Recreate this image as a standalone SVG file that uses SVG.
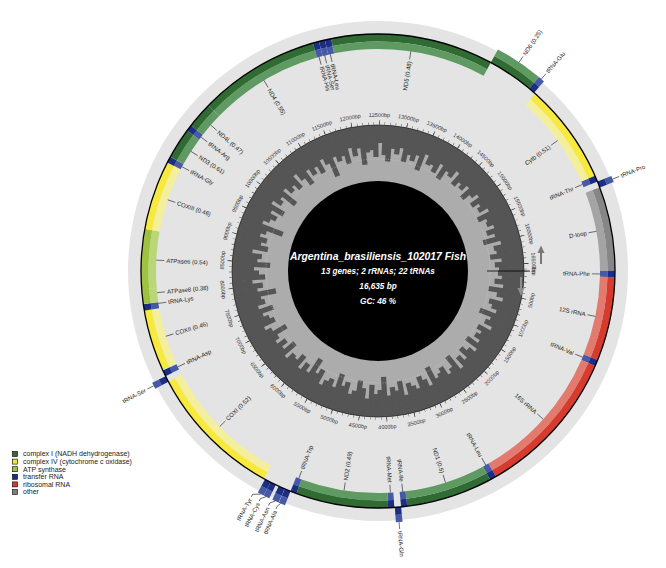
<svg xmlns="http://www.w3.org/2000/svg" width="666" height="568" viewBox="0 0 666 568">
<style>
.d,.l{fill:none;stroke-width:7.6}
.c1d{stroke:#2f6b33}.c1l{stroke:#5f9a62}
.c4d{stroke:#f7e93e}.c4l{stroke:#f4ef9c}
.atd{stroke:#9cc23f}.atl{stroke:#b9d678}
.trd{stroke:#1c2e84}.trl{stroke:#4659a6}
.rrd{stroke:#d63b2f}.rrl{stroke:#e27a6e}
.otd{stroke:#868686}.otl{stroke:#a4a4a4}
text{font-family:"Liberation Sans",Arial,sans-serif}
.t{font-size:6px;fill:#222}
.e{text-anchor:end}
.bp{font-size:5.5px;fill:#333;text-anchor:middle}
.ct{fill:#fff;font-weight:bold;font-style:italic;text-anchor:middle}
.lg{font-size:7px;fill:#222}
#connectors path{fill:none;stroke:#222;stroke-width:0.6}
.sq{stroke:#000;stroke-width:0.6}
</style>
<defs>
<clipPath id="gcclip"><circle r="146"/></clipPath>
<rect id="b" x="0" y="-2.6" width="60" height="5.2" fill="#555"/>
</defs>
<rect width="666" height="568" fill="#fff"/>
<g transform="translate(378,271)">
<circle r="250" fill="#e4e4e4"/>
<g id="gc-content">
<circle r="146" fill="#555"/>
<circle r="136" fill="#acacac"/>
<g clip-path="url(#gcclip)">
<use href="#b" x="120" transform="rotate(1)"/><use href="#b" x="124" transform="rotate(3)"/><use href="#b" x="117" transform="rotate(5)"/><use href="#b" x="126" transform="rotate(7)"/><use href="#b" x="112" transform="rotate(9)"/><use href="#b" x="121" transform="rotate(11)"/><use href="#b" x="128" transform="rotate(13)"/><use href="#b" x="115" transform="rotate(15)"/><use href="#b" x="119" transform="rotate(17)"/><use href="#b" x="125" transform="rotate(19)"/>
<use href="#b" x="109" transform="rotate(21)"/><use href="#b" x="122" transform="rotate(23)"/><use href="#b" x="118" transform="rotate(25)"/><use href="#b" x="127" transform="rotate(27)"/><use href="#b" x="114" transform="rotate(29)"/><use href="#b" x="120" transform="rotate(31)"/><use href="#b" x="116" transform="rotate(33)"/><use href="#b" x="123" transform="rotate(35)"/><use href="#b" x="111" transform="rotate(37)"/><use href="#b" x="126" transform="rotate(39)"/>
<use href="#b" x="119" transform="rotate(41)"/><use href="#b" x="113" transform="rotate(43)"/><use href="#b" x="124" transform="rotate(45)"/><use href="#b" x="117" transform="rotate(47)"/><use href="#b" x="128" transform="rotate(49)"/><use href="#b" x="110" transform="rotate(51)"/><use href="#b" x="121" transform="rotate(53)"/><use href="#b" x="125" transform="rotate(55)"/><use href="#b" x="115" transform="rotate(57)"/><use href="#b" x="119" transform="rotate(59)"/>
<use href="#b" x="122" transform="rotate(61)"/><use href="#b" x="108" transform="rotate(63)"/><use href="#b" x="126" transform="rotate(65)"/><use href="#b" x="118" transform="rotate(67)"/><use href="#b" x="113" transform="rotate(69)"/><use href="#b" x="124" transform="rotate(71)"/><use href="#b" x="120" transform="rotate(73)"/><use href="#b" x="116" transform="rotate(75)"/><use href="#b" x="127" transform="rotate(77)"/><use href="#b" x="112" transform="rotate(79)"/>
<use href="#b" x="121" transform="rotate(81)"/><use href="#b" x="117" transform="rotate(83)"/><use href="#b" x="125" transform="rotate(85)"/><use href="#b" x="106" transform="rotate(87)"/><use href="#b" x="119" transform="rotate(89)"/><use href="#b" x="123" transform="rotate(91)"/><use href="#b" x="114" transform="rotate(93)"/><use href="#b" x="128" transform="rotate(95)"/><use href="#b" x="118" transform="rotate(97)"/><use href="#b" x="111" transform="rotate(99)"/>
<use href="#b" x="122" transform="rotate(101)"/><use href="#b" x="126" transform="rotate(103)"/><use href="#b" x="115" transform="rotate(105)"/><use href="#b" x="120" transform="rotate(107)"/><use href="#b" x="109" transform="rotate(109)"/><use href="#b" x="124" transform="rotate(111)"/><use href="#b" x="117" transform="rotate(113)"/><use href="#b" x="121" transform="rotate(115)"/><use href="#b" x="127" transform="rotate(117)"/><use href="#b" x="113" transform="rotate(119)"/>
<use href="#b" x="119" transform="rotate(121)"/><use href="#b" x="105" transform="rotate(123)"/><use href="#b" x="123" transform="rotate(125)"/><use href="#b" x="116" transform="rotate(127)"/><use href="#b" x="125" transform="rotate(129)"/><use href="#b" x="112" transform="rotate(131)"/><use href="#b" x="120" transform="rotate(133)"/><use href="#b" x="118" transform="rotate(135)"/><use href="#b" x="126" transform="rotate(137)"/><use href="#b" x="110" transform="rotate(139)"/>
<use href="#b" x="122" transform="rotate(141)"/><use href="#b" x="115" transform="rotate(143)"/><use href="#b" x="124" transform="rotate(145)"/><use href="#b" x="119" transform="rotate(147)"/><use href="#b" x="107" transform="rotate(149)"/><use href="#b" x="121" transform="rotate(151)"/><use href="#b" x="127" transform="rotate(153)"/><use href="#b" x="114" transform="rotate(155)"/><use href="#b" x="118" transform="rotate(157)"/><use href="#b" x="123" transform="rotate(159)"/>
<use href="#b" x="111" transform="rotate(161)"/><use href="#b" x="125" transform="rotate(163)"/><use href="#b" x="117" transform="rotate(165)"/><use href="#b" x="120" transform="rotate(167)"/><use href="#b" x="104" transform="rotate(169)"/><use href="#b" x="122" transform="rotate(171)"/><use href="#b" x="116" transform="rotate(173)"/><use href="#b" x="126" transform="rotate(175)"/><use href="#b" x="113" transform="rotate(177)"/><use href="#b" x="119" transform="rotate(179)"/>
<use href="#b" x="124" transform="rotate(181)"/><use href="#b" x="108" transform="rotate(183)"/><use href="#b" x="121" transform="rotate(185)"/><use href="#b" x="117" transform="rotate(187)"/><use href="#b" x="127" transform="rotate(189)"/><use href="#b" x="112" transform="rotate(191)"/><use href="#b" x="120" transform="rotate(193)"/><use href="#b" x="115" transform="rotate(195)"/><use href="#b" x="123" transform="rotate(197)"/><use href="#b" x="118" transform="rotate(199)"/>
<use href="#b" x="102" transform="rotate(201)"/><use href="#b" x="125" transform="rotate(203)"/><use href="#b" x="119" transform="rotate(205)"/><use href="#b" x="114" transform="rotate(207)"/><use href="#b" x="122" transform="rotate(209)"/><use href="#b" x="110" transform="rotate(211)"/><use href="#b" x="126" transform="rotate(213)"/><use href="#b" x="117" transform="rotate(215)"/><use href="#b" x="121" transform="rotate(217)"/><use href="#b" x="106" transform="rotate(219)"/>
<use href="#b" x="124" transform="rotate(221)"/><use href="#b" x="116" transform="rotate(223)"/><use href="#b" x="120" transform="rotate(225)"/><use href="#b" x="113" transform="rotate(227)"/><use href="#b" x="127" transform="rotate(229)"/><use href="#b" x="118" transform="rotate(231)"/><use href="#b" x="109" transform="rotate(233)"/><use href="#b" x="123" transform="rotate(235)"/><use href="#b" x="115" transform="rotate(237)"/><use href="#b" x="121" transform="rotate(239)"/>
<use href="#b" x="112" transform="rotate(241)"/><use href="#b" x="125" transform="rotate(243)"/><use href="#b" x="118" transform="rotate(245)"/><use href="#b" x="103" transform="rotate(247)"/><use href="#b" x="122" transform="rotate(249)"/><use href="#b" x="116" transform="rotate(251)"/><use href="#b" x="120" transform="rotate(253)"/><use href="#b" x="111" transform="rotate(255)"/><use href="#b" x="126" transform="rotate(257)"/><use href="#b" x="117" transform="rotate(259)"/>
<use href="#b" x="124" transform="rotate(261)"/><use href="#b" x="107" transform="rotate(263)"/><use href="#b" x="119" transform="rotate(265)"/><use href="#b" x="121" transform="rotate(267)"/><use href="#b" x="114" transform="rotate(269)"/><use href="#b" x="128" transform="rotate(271)"/><use href="#b" x="116" transform="rotate(273)"/><use href="#b" x="110" transform="rotate(275)"/><use href="#b" x="123" transform="rotate(277)"/><use href="#b" x="118" transform="rotate(279)"/>
<use href="#b" x="125" transform="rotate(281)"/><use href="#b" x="112" transform="rotate(283)"/><use href="#b" x="120" transform="rotate(285)"/><use href="#b" x="115" transform="rotate(287)"/><use href="#b" x="122" transform="rotate(289)"/><use href="#b" x="108" transform="rotate(291)"/><use href="#b" x="126" transform="rotate(293)"/><use href="#b" x="117" transform="rotate(295)"/><use href="#b" x="119" transform="rotate(297)"/><use href="#b" x="113" transform="rotate(299)"/>
<use href="#b" x="124" transform="rotate(301)"/><use href="#b" x="110" transform="rotate(303)"/><use href="#b" x="121" transform="rotate(305)"/><use href="#b" x="118" transform="rotate(307)"/><use href="#b" x="127" transform="rotate(309)"/><use href="#b" x="114" transform="rotate(311)"/><use href="#b" x="120" transform="rotate(313)"/><use href="#b" x="116" transform="rotate(315)"/><use href="#b" x="123" transform="rotate(317)"/><use href="#b" x="111" transform="rotate(319)"/>
<use href="#b" x="119" transform="rotate(321)"/><use href="#b" x="125" transform="rotate(323)"/><use href="#b" x="114" transform="rotate(325)"/><use href="#b" x="121" transform="rotate(327)"/><use href="#b" x="117" transform="rotate(329)"/><use href="#b" x="126" transform="rotate(331)"/><use href="#b" x="112" transform="rotate(333)"/><use href="#b" x="120" transform="rotate(335)"/><use href="#b" x="118" transform="rotate(337)"/><use href="#b" x="124" transform="rotate(339)"/>
<use href="#b" x="115" transform="rotate(341)"/><use href="#b" x="122" transform="rotate(343)"/><use href="#b" x="109" transform="rotate(345)"/><use href="#b" x="126" transform="rotate(347)"/><use href="#b" x="118" transform="rotate(349)"/><use href="#b" x="120" transform="rotate(351)"/><use href="#b" x="113" transform="rotate(353)"/><use href="#b" x="124" transform="rotate(355)"/><use href="#b" x="117" transform="rotate(357)"/><use href="#b" x="121" transform="rotate(359)"/>
</g>
<circle r="112" fill="none" stroke="#d2d2d2" stroke-width="0.5" stroke-dasharray="1 1.5"/>
<circle r="90" fill="#000"/>
<circle r="146" fill="none" stroke="#222" stroke-width="0.7"/>
<circle r="147.6" fill="none" stroke="#222" stroke-width="2.4" pathLength="16635" stroke-dasharray="7 93" stroke-dashoffset="3.5"/>
<circle r="148.6" fill="none" stroke="#222" stroke-width="4.4" pathLength="16635" stroke-dasharray="10 490" stroke-dashoffset="5"/>
<path d="M109 0H152" stroke="#000" stroke-width="0.8"/>
</g>
<g id="bp-scale">
<text class="bp" y="2" transform="rotate(0) translate(156) rotate(90)">0bp</text>
<text class="bp" y="2" transform="rotate(10.82) translate(156) rotate(-90)">500bp</text>
<text class="bp" y="2" transform="rotate(21.64) translate(156) rotate(-90)">1000bp</text>
<text class="bp" y="2" transform="rotate(32.46) translate(156) rotate(-90)">1500bp</text>
<text class="bp" y="2" transform="rotate(43.28) translate(156) rotate(-90)">2000bp</text>
<text class="bp" y="2" transform="rotate(54.10) translate(156) rotate(-90)">2500bp</text>
<text class="bp" y="2" transform="rotate(64.92) translate(156) rotate(-90)">3000bp</text>
<text class="bp" y="2" transform="rotate(75.74) translate(156) rotate(-90)">3500bp</text>
<text class="bp" y="2" transform="rotate(86.56) translate(156) rotate(-90)">4000bp</text>
<text class="bp" y="2" transform="rotate(97.38) translate(156) rotate(-90)">4500bp</text>
<text class="bp" y="2" transform="rotate(108.21) translate(156) rotate(-90)">5000bp</text>
<text class="bp" y="2" transform="rotate(119.03) translate(156) rotate(-90)">5500bp</text>
<text class="bp" y="2" transform="rotate(129.85) translate(156) rotate(-90)">6000bp</text>
<text class="bp" y="2" transform="rotate(140.67) translate(156) rotate(-90)">6500bp</text>
<text class="bp" y="2" transform="rotate(151.49) translate(156) rotate(-90)">7000bp</text>
<text class="bp" y="2" transform="rotate(162.31) translate(156) rotate(-90)">7500bp</text>
<text class="bp" y="2" transform="rotate(173.13) translate(156) rotate(-90)">8000bp</text>
<text class="bp" y="2" transform="rotate(183.95) translate(156) rotate(90)">8500bp</text>
<text class="bp" y="2" transform="rotate(194.77) translate(156) rotate(90)">9000bp</text>
<text class="bp" y="2" transform="rotate(205.59) translate(156) rotate(90)">9500bp</text>
<text class="bp" y="2" transform="rotate(216.41) translate(156) rotate(90)">10000bp</text>
<text class="bp" y="2" transform="rotate(227.23) translate(156) rotate(90)">10500bp</text>
<text class="bp" y="2" transform="rotate(238.05) translate(156) rotate(90)">11000bp</text>
<text class="bp" y="2" transform="rotate(248.87) translate(156) rotate(90)">11500bp</text>
<text class="bp" y="2" transform="rotate(259.69) translate(156) rotate(90)">12000bp</text>
<text class="bp" y="2" transform="rotate(270.51) translate(156) rotate(90)">12500bp</text>
<text class="bp" y="2" transform="rotate(281.33) translate(156) rotate(90)">13000bp</text>
<text class="bp" y="2" transform="rotate(292.15) translate(156) rotate(90)">13500bp</text>
<text class="bp" y="2" transform="rotate(302.98) translate(156) rotate(90)">14000bp</text>
<text class="bp" y="2" transform="rotate(313.80) translate(156) rotate(90)">14500bp</text>
<text class="bp" y="2" transform="rotate(324.62) translate(156) rotate(90)">15000bp</text>
<text class="bp" y="2" transform="rotate(335.44) translate(156) rotate(90)">15500bp</text>
<text class="bp" y="2" transform="rotate(346.26) translate(156) rotate(90)">16000bp</text>
<text class="bp" y="2" transform="rotate(357.08) translate(156) rotate(90)">16500bp</text>
</g>
<g id="genes">
<g id="trnF"><circle class="d trd" r="233.2" pathLength="16635" stroke-dasharray="70 20000" stroke-dashoffset="0"/><circle class="l trl" r="225.8" pathLength="16635" stroke-dasharray="70 20000" stroke-dashoffset="0"/><text class="t e" x="212" y="2.1" transform="rotate(0.76)">tRNA-Phe</text></g>
<g id="rrnS"><circle class="d rrd" r="233.2" pathLength="16635" stroke-dasharray="950 20000" stroke-dashoffset="-70"/><circle class="l rrl" r="225.8" pathLength="16635" stroke-dasharray="950 20000" stroke-dashoffset="-70"/><text class="t e" x="212" y="2.1" transform="rotate(11.8)">12S rRNA</text></g>
<g id="trnV"><circle class="d trd" r="233.2" pathLength="16635" stroke-dasharray="72 20000" stroke-dashoffset="-1020"/><circle class="l trl" r="225.8" pathLength="16635" stroke-dasharray="72 20000" stroke-dashoffset="-1020"/><text class="t e" x="212" y="2.1" transform="rotate(22.85)">tRNA-Val</text></g>
<g id="rrnL"><circle class="d rrd" r="233.2" pathLength="16635" stroke-dasharray="1688 20000" stroke-dashoffset="-1092"/><circle class="l rrl" r="225.8" pathLength="16635" stroke-dasharray="1688 20000" stroke-dashoffset="-1092"/><text class="t e" x="212" y="2.1" transform="rotate(41.9)">16S rRNA</text></g>
<g id="trnL2"><circle class="d trd" r="233.2" pathLength="16635" stroke-dasharray="75 20000" stroke-dashoffset="-2780"/><circle class="l trl" r="225.8" pathLength="16635" stroke-dasharray="75 20000" stroke-dashoffset="-2780"/><text class="t e" x="212" y="2.1" transform="rotate(60.96)">tRNA-Leu</text></g>
<g id="nad1"><circle class="d c1d" r="233.2" pathLength="16635" stroke-dasharray="975 20000" stroke-dashoffset="-2855"/><circle class="l c1l" r="225.8" pathLength="16635" stroke-dasharray="975 20000" stroke-dashoffset="-2855"/><text class="t e" x="212" y="2.1" transform="rotate(72.3)">ND1 (0.5)</text></g>
<g id="trnI"><circle class="d trd" r="233.2" pathLength="16635" stroke-dasharray="70 20000" stroke-dashoffset="-3830"/><circle class="l trl" r="225.8" pathLength="16635" stroke-dasharray="70 20000" stroke-dashoffset="-3830"/><text class="t e" x="212" y="2.1" transform="rotate(83.6)">tRNA-Ile</text></g>
<g id="trnQ"><circle class="d trd" r="240.8" pathLength="16635" stroke-dasharray="70 20000" stroke-dashoffset="-3900"/><circle class="l trl" r="248.2" pathLength="16635" stroke-dasharray="70 20000" stroke-dashoffset="-3900"/><text class="t" x="261" y="2.1" transform="rotate(85.2)">tRNA-Gln</text></g>
<g id="trnM"><circle class="d trd" r="233.2" pathLength="16635" stroke-dasharray="70 20000" stroke-dashoffset="-3975"/><circle class="l trl" r="225.8" pathLength="16635" stroke-dasharray="70 20000" stroke-dashoffset="-3975"/><text class="t e" x="212" y="2.1" transform="rotate(86.8)">tRNA-Met</text></g>
<g id="nad2"><circle class="d c1d" r="233.2" pathLength="16635" stroke-dasharray="1045 20000" stroke-dashoffset="-4045"/><circle class="l c1l" r="225.8" pathLength="16635" stroke-dasharray="1045 20000" stroke-dashoffset="-4045"/><text class="t" x="-212" y="2.1" transform="rotate(-81.2)">ND2 (0.49)</text></g>
<g id="trnW"><circle class="d trd" r="233.2" pathLength="16635" stroke-dasharray="70 20000" stroke-dashoffset="-5090"/><circle class="l trl" r="225.8" pathLength="16635" stroke-dasharray="70 20000" stroke-dashoffset="-5090"/><text class="t" x="-212" y="2.1" transform="rotate(-69.1)">tRNA-Trp</text></g>
<g id="trnA"><circle class="d trd" r="240.8" pathLength="16635" stroke-dasharray="70 20000" stroke-dashoffset="-5160"/><circle class="l trl" r="248.2" pathLength="16635" stroke-dasharray="70 20000" stroke-dashoffset="-5160"/><text class="t e" x="-261" y="2.1" transform="rotate(-66.8)">tRNA-Ala</text></g>
<g id="trnN"><circle class="d trd" r="240.8" pathLength="16635" stroke-dasharray="73 20000" stroke-dashoffset="-5232"/><circle class="l trl" r="248.2" pathLength="16635" stroke-dasharray="73 20000" stroke-dashoffset="-5232"/><text class="t e" x="-261" y="2.1" transform="rotate(-65.0)">tRNA-Asn</text></g>
<g id="trnC"><circle class="d trd" r="240.8" pathLength="16635" stroke-dasharray="65 20000" stroke-dashoffset="-5340"/><circle class="l trl" r="248.2" pathLength="16635" stroke-dasharray="65 20000" stroke-dashoffset="-5340"/><text class="t e" x="-261" y="2.1" transform="rotate(-62.7)">tRNA-Cys</text></g>
<g id="trnY"><circle class="d trd" r="240.8" pathLength="16635" stroke-dasharray="70 20000" stroke-dashoffset="-5405"/><circle class="l trl" r="248.2" pathLength="16635" stroke-dasharray="70 20000" stroke-dashoffset="-5405"/><text class="t e" x="-261" y="2.1" transform="rotate(-60.7)">tRNA-Tyr</text></g>
<g id="cox1"><circle class="d c4d" r="233.2" pathLength="16635" stroke-dasharray="1540 20000" stroke-dashoffset="-5490"/><circle class="l c4l" r="225.8" pathLength="16635" stroke-dasharray="1540 20000" stroke-dashoffset="-5490"/><text class="t" x="-212" y="2.1" transform="rotate(-44.5)">COXI (0.52)</text></g>
<g id="trnS2"><circle class="d trd" r="240.8" pathLength="16635" stroke-dasharray="70 20000" stroke-dashoffset="-7030"/><circle class="l trl" r="248.2" pathLength="16635" stroke-dasharray="70 20000" stroke-dashoffset="-7030"/><text class="t e" x="-261" y="2.1" transform="rotate(-27.1)">tRNA-Ser</text></g>
<g id="trnD"><circle class="d trd" r="233.2" pathLength="16635" stroke-dasharray="70 20000" stroke-dashoffset="-7100"/><circle class="l trl" r="225.8" pathLength="16635" stroke-dasharray="70 20000" stroke-dashoffset="-7100"/><text class="t" x="-212" y="2.1" transform="rotate(-25.6)">tRNA-Asp</text></g>
<g id="cox2"><circle class="d c4d" r="233.2" pathLength="16635" stroke-dasharray="690 20000" stroke-dashoffset="-7180"/><circle class="l c4l" r="225.8" pathLength="16635" stroke-dasharray="690 20000" stroke-dashoffset="-7180"/><text class="t" x="-212" y="2.1" transform="rotate(-17.1)">COXII (0.46)</text></g>
<g id="trnK"><circle class="d trd" r="233.2" pathLength="16635" stroke-dasharray="72 20000" stroke-dashoffset="-7872"/><circle class="l trl" r="225.8" pathLength="16635" stroke-dasharray="72 20000" stroke-dashoffset="-7872"/><text class="t" x="-212" y="2.1" transform="rotate(-8.4)">tRNA-Lys</text></g>
<g id="atp8"><circle class="d atd" r="233.2" pathLength="16635" stroke-dasharray="166 20000" stroke-dashoffset="-7946"/><circle class="l atl" r="225.8" pathLength="16635" stroke-dasharray="166 20000" stroke-dashoffset="-7946"/><text class="t" x="-212" y="2.1" transform="rotate(-5.6)">ATPase8 (0.38)</text></g>
<g id="atp6"><circle class="d atd" r="233.2" pathLength="16635" stroke-dasharray="678 20000" stroke-dashoffset="-8112"/><circle class="l atl" r="225.8" pathLength="16635" stroke-dasharray="678 20000" stroke-dashoffset="-8112"/><text class="t" x="-212" y="2.1" transform="rotate(2.8)">ATPase6 (0.54)</text></g>
<g id="cox3"><circle class="d c4d" r="233.2" pathLength="16635" stroke-dasharray="787 20000" stroke-dashoffset="-8790"/><circle class="l c4l" r="225.8" pathLength="16635" stroke-dasharray="787 20000" stroke-dashoffset="-8790"/><text class="t" x="-212" y="2.1" transform="rotate(18.7)">COXIII (0.46)</text></g>
<g id="trnG"><circle class="d trd" r="233.2" pathLength="16635" stroke-dasharray="71 20000" stroke-dashoffset="-9577"/><circle class="l trl" r="225.8" pathLength="16635" stroke-dasharray="71 20000" stroke-dashoffset="-9577"/><text class="t" x="-212" y="2.1" transform="rotate(28.0)">tRNA-Gly</text></g>
<g id="nad3"><circle class="d c1d" r="233.2" pathLength="16635" stroke-dasharray="349 20000" stroke-dashoffset="-9649"/><circle class="l c1l" r="225.8" pathLength="16635" stroke-dasharray="349 20000" stroke-dashoffset="-9649"/><text class="t" x="-212" y="2.1" transform="rotate(32.6)">ND3 (0.61)</text></g>
<g id="trnR"><circle class="d trd" r="233.2" pathLength="16635" stroke-dasharray="70 20000" stroke-dashoffset="-9998"/><circle class="l trl" r="225.8" pathLength="16635" stroke-dasharray="70 20000" stroke-dashoffset="-9998"/><text class="t" x="-212" y="2.1" transform="rotate(37.1)">tRNA-Arg</text></g>
<g id="nad4l"><circle class="d c1d" r="233.2" pathLength="16635" stroke-dasharray="296 20000" stroke-dashoffset="-10068"/><circle class="l c1l" r="225.8" pathLength="16635" stroke-dasharray="296 20000" stroke-dashoffset="-10068"/><text class="t" x="-212" y="2.1" transform="rotate(41.1)">ND4L (0.47)</text></g>
<g id="nad4"><circle class="d c1d" r="233.2" pathLength="16635" stroke-dasharray="1376 20000" stroke-dashoffset="-10364"/><circle class="l c1l" r="225.8" pathLength="16635" stroke-dasharray="1376 20000" stroke-dashoffset="-10364"/><text class="t" x="-212" y="2.1" transform="rotate(59.1)">ND4 (0.55)</text></g>
<g id="trnH"><circle class="d trd" r="233.2" pathLength="16635" stroke-dasharray="68 20000" stroke-dashoffset="-11740"/><circle class="l trl" r="225.8" pathLength="16635" stroke-dasharray="68 20000" stroke-dashoffset="-11740"/><text class="t" x="-212" y="2.1" transform="rotate(74.6)">tRNA-His</text></g>
<g id="trnS1"><circle class="d trd" r="233.2" pathLength="16635" stroke-dasharray="67 20000" stroke-dashoffset="-11809"/><circle class="l trl" r="225.8" pathLength="16635" stroke-dasharray="67 20000" stroke-dashoffset="-11809"/><text class="t" x="-212" y="2.1" transform="rotate(76.1)">tRNA-Ser</text></g>
<g id="trnL1"><circle class="d trd" r="233.2" pathLength="16635" stroke-dasharray="72 20000" stroke-dashoffset="-11877"/><circle class="l trl" r="225.8" pathLength="16635" stroke-dasharray="72 20000" stroke-dashoffset="-11877"/><text class="t" x="-212" y="2.1" transform="rotate(77.6)">tRNA-Leu</text></g>
<g id="nad5"><circle class="d c1d" r="233.2" pathLength="16635" stroke-dasharray="1840 20000" stroke-dashoffset="-11950"/><circle class="l c1l" r="225.8" pathLength="16635" stroke-dasharray="1840 20000" stroke-dashoffset="-11950"/><text class="t e" x="212" y="2.1" transform="rotate(278.5)">ND5 (0.48)</text></g>
<g id="nad6"><circle class="d c1d" r="240.8" pathLength="16635" stroke-dasharray="520 20000" stroke-dashoffset="-13790"/><circle class="l c1l" r="248.2" pathLength="16635" stroke-dasharray="520 20000" stroke-dashoffset="-13790"/><text class="t" x="261" y="2.1" transform="rotate(304.05)">ND6 (0.25)</text></g>
<g id="trnE"><circle class="d trd" r="240.8" pathLength="16635" stroke-dasharray="70 20000" stroke-dashoffset="-14310"/><circle class="l trl" r="248.2" pathLength="16635" stroke-dasharray="70 20000" stroke-dashoffset="-14310"/><text class="t" x="261" y="2.1" transform="rotate(310.4)">tRNA-Glu</text></g>
<g id="cob"><circle class="d c4d" r="233.2" pathLength="16635" stroke-dasharray="1140 20000" stroke-dashoffset="-14400"/><circle class="l c4l" r="225.8" pathLength="16635" stroke-dasharray="1140 20000" stroke-dashoffset="-14400"/><text class="t e" x="212" y="2.1" transform="rotate(324.0)">Cytb (0.51)</text></g>
<g id="trnT"><circle class="d trd" r="233.2" pathLength="16635" stroke-dasharray="70 20000" stroke-dashoffset="-15540"/><circle class="l trl" r="225.8" pathLength="16635" stroke-dasharray="70 20000" stroke-dashoffset="-15540"/><text class="t e" x="212" y="2.1" transform="rotate(337.06)">tRNA-Thr</text></g>
<g id="trnP"><circle class="d trd" r="240.8" pathLength="16635" stroke-dasharray="70 20000" stroke-dashoffset="-15610"/><circle class="l trl" r="248.2" pathLength="16635" stroke-dasharray="70 20000" stroke-dashoffset="-15610"/><text class="t" x="261" y="2.1" transform="rotate(338.6)">tRNA-Pro</text></g>
<g id="dloop"><circle class="d otd" r="233.2" pathLength="16635" stroke-dasharray="955 20000" stroke-dashoffset="-15680"/><circle class="l otl" r="225.8" pathLength="16635" stroke-dasharray="955 20000" stroke-dashoffset="-15680"/><text class="t e" x="212" y="2.1" transform="rotate(349.7)">D-loop</text></g>
</g>
<circle r="237" fill="none" stroke="#000" stroke-width="1.3"/>
<g id="connectors">
<path d="M222 0H214" transform="rotate(0.76)"/>
<path d="M222 0H214" transform="rotate(11.8)"/>
<path d="M222 0H214" transform="rotate(22.85)"/>
<path d="M222 0H214" transform="rotate(41.9)"/>
<path d="M222 0H214" transform="rotate(60.96)"/>
<path d="M222 0H214" transform="rotate(72.3)"/>
<path d="M222 0H214" transform="rotate(83.6)"/>
<path d="M252 0H259" transform="rotate(85.2)"/>
<path d="M222 0H214" transform="rotate(86.8)"/>
<path d="M222 0H214" transform="rotate(98.8)"/>
<path d="M222 0H214" transform="rotate(110.9)"/>
<path d="M252 -2L256 0H259" transform="rotate(113.2)"/>
<path d="M252 -4L256 0H259" transform="rotate(115.0)"/>
<path d="M252 -4L256 0H259" transform="rotate(117.3)"/>
<path d="M252 -7L256 0H259" transform="rotate(119.3)"/>
<path d="M222 0H214" transform="rotate(135.5)"/>
<path d="M252 0H259" transform="rotate(152.9)"/>
<path d="M222 0H214" transform="rotate(154.4)"/>
<path d="M222 0H214" transform="rotate(162.9)"/>
<path d="M222 0H214" transform="rotate(171.6)"/>
<path d="M222 0H214" transform="rotate(174.4)"/>
<path d="M222 0H214" transform="rotate(182.8)"/>
<path d="M222 0H214" transform="rotate(198.7)"/>
<path d="M222 0H214" transform="rotate(208.0)"/>
<path d="M222 0H214" transform="rotate(212.6)"/>
<path d="M222 0H214" transform="rotate(217.1)"/>
<path d="M222 0H214" transform="rotate(221.1)"/>
<path d="M222 0H214" transform="rotate(239.1)"/>
<path d="M222 0H214" transform="rotate(254.6)"/>
<path d="M222 0H214" transform="rotate(256.1)"/>
<path d="M222 0H214" transform="rotate(257.6)"/>
<path d="M222 0H214" transform="rotate(278.5)"/>
<path d="M252 0H259" transform="rotate(304.05)"/>
<path d="M252 0H259" transform="rotate(310.4)"/>
<path d="M222 0H214" transform="rotate(324.0)"/>
<path d="M222 0H214" transform="rotate(337.06)"/>
<path d="M252 0H259" transform="rotate(338.6)"/>
<path d="M222 0H214" transform="rotate(349.7)"/>
</g>
</g>
<g id="strand-arrows">
<path d="M541 264V252" stroke="#777" stroke-width="2"/>
<path d="M537.5 253L541 245.5L544.5 253Z" fill="#777"/>
<path d="M521 277V289" stroke="#8e8e8e" stroke-width="2"/>
<path d="M517.5 288L521 296L524.5 288Z" fill="#8e8e8e"/>
</g>
<g id="center-info">
<text class="ct" x="378" y="259.5" font-size="10.4">Argentina_brasiliensis_102017 Fish</text>
<text class="ct" x="378" y="274" font-size="8.2">13 genes; 2 rRNAs; 22 tRNAs</text>
<text class="ct" x="378" y="289" font-size="8.2">16,635 bp</text>
<text class="ct" x="378" y="304" font-size="8.2">GC: 46 %</text>
</g>
<g id="legend">
<rect class="sq" x="12.5" y="451.5" width="5" height="5" fill="#2f6b33"/><text class="lg" x="23" y="456.4">complex I (NADH dehydrogenase)</text>
<rect class="sq" x="12.5" y="459.1" width="5" height="5" fill="#f2e63a"/><text class="lg" x="23" y="464">complex IV (cytochrome c oxidase)</text>
<rect class="sq" x="12.5" y="466.7" width="5" height="5" fill="#9cc23f"/><text class="lg" x="23" y="471.6">ATP synthase</text>
<rect class="sq" x="12.5" y="474.3" width="5" height="5" fill="#1c2e84"/><text class="lg" x="23" y="479.2">transfer RNA</text>
<rect class="sq" x="12.5" y="481.9" width="5" height="5" fill="#d63b2f"/><text class="lg" x="23" y="486.8">ribosomal RNA</text>
<rect class="sq" x="12.5" y="489.5" width="5" height="5" fill="#808080"/><text class="lg" x="23" y="494.4">other</text>
</g>
</svg>
